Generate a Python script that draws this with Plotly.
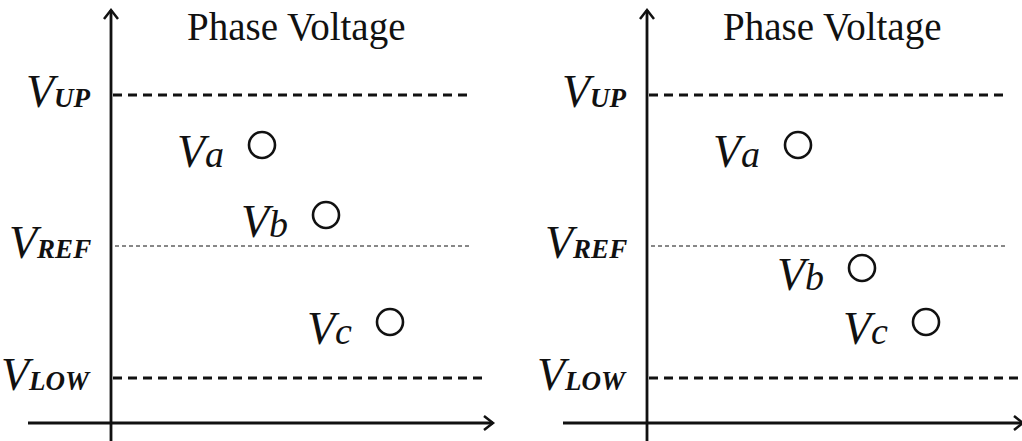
import plotly.graph_objects as go

# ---------------- data (units: voltage level measured up from the time axis) ----
title_text = "Phase Voltage"
level_names = ["UP", "REF", "LOW"]
level_values = [328, 177, 45]
phase_names = ["a", "b", "c"]
phase_pos = [151, 215, 279]          # position along the horizontal axis
left_values = [278, 208, 101]        # Va, Vb, Vc (left panel)
right_values = [278, 155, 101]       # Va, Vb, Vc (right panel)

# ---------------- styling --------------------------------------------------------
W, H = 1022, 441
SERIF = "Liberation Serif, serif"
INK = "#111111"
level_style = {
    "UP": dict(width=2.8, dash="9px,6px", x0=2, x1=361),
    "REF": dict(width=1.0, dash="4px,3px", x0=4, x1=361),
    "LOW": dict(width=2.8, dash="9px,6px", x0=2, x1=373),
}
panels = [
    dict(values=left_values, xr=[-111, 400], dom=[0, 511 / W], ax_start=-83, ax_tip=382),
    dict(values=right_values, xr=[-136, 375], dom=[511 / W, 1], ax_start=-84, ax_tip=376),
]
YR = [-18, 423]
Y_TIP = 413

fig = go.Figure()
shapes, annotations = [], []

for i, p in enumerate(panels):
    xa = "x" if i == 0 else "x2"
    ya = "y" if i == 0 else "y2"
    sfx = "" if i == 0 else "2"

    # circles for phase voltages
    fig.add_trace(go.Scatter(
        x=phase_pos, y=p["values"], mode="markers",
        marker=dict(symbol="circle-open", size=26, color=INK, line=dict(width=2.6, color=INK)),
        xaxis=xa, yaxis=ya, showlegend=False, hoverinfo="skip",
    ))
    # phase labels
    for name, xv, yv in zip(phase_names, phase_pos, p["values"]):
        annotations.append(dict(
            x=xv, y=yv, xref=xa, yref=ya, showarrow=False,
            xanchor="right", yanchor="middle", xshift=-36, yshift=-6,
            text=f"<i>V<span style='font-size:38px'>{name}</span></i>",
            font=dict(family=SERIF, size=46, color=INK),
        ))
    # level lines and labels
    for name, lv in zip(level_names, level_values):
        st = level_style[name]
        shapes.append(dict(type="line", xref=xa, yref=ya, x0=st["x0"], x1=st["x1"], y0=lv, y1=lv,
                           line=dict(color=INK, width=st["width"], dash=st["dash"])))
        annotations.append(dict(
            x=0, y=lv, xref=xa, yref=ya, showarrow=False,
            xanchor="right", yanchor="middle", xshift=-18, yshift=4,
            text=f"<i>V<b><span style='font-size:27px'>{name}</span></b></i>",
            font=dict(family=SERIF, size=46, color=INK),
        ))
    # axes with arrows
    shapes.append(dict(type="line", xref=xa, yref=ya, x0=0, x1=0, y0=YR[0], y1=Y_TIP,
                       line=dict(color=INK, width=2.8)))
    shapes.append(dict(type="path", xref=xa, yref=ya,
                       path=f"M -7,{Y_TIP-9} L 0,{Y_TIP} L 7,{Y_TIP-9}",
                       line=dict(color=INK, width=2.5)))
    shapes.append(dict(type="line", xref=xa, yref=ya, x0=p["ax_start"], x1=p["ax_tip"], y0=0, y1=0,
                       line=dict(color=INK, width=2.8)))
    t = p["ax_tip"]
    shapes.append(dict(type="path", xref=xa, yref=ya,
                       path=f"M {t-9},7 L {t},0 L {t-9},-7",
                       line=dict(color=INK, width=2.5)))
    # title
    annotations.append(dict(
        x=185, y=396, xref=xa, yref=ya, showarrow=False,
        xanchor="center", yanchor="middle", text=title_text,
        font=dict(family=SERIF, size=39, color=INK),
    ))

    axis_common = dict(visible=False, showgrid=False, zeroline=False, fixedrange=True)
    fig.layout["xaxis" + sfx] = dict(range=p["xr"], domain=p["dom"], anchor=ya, **axis_common)
    fig.layout["yaxis" + sfx] = dict(range=YR, domain=[0, 1], anchor=xa, **axis_common)

fig.update_layout(
    width=W, height=H, margin=dict(l=0, r=0, t=0, b=0),
    paper_bgcolor="white", plot_bgcolor="white",
    shapes=shapes, annotations=annotations, showlegend=False,
)

fig.write_html("out.html", config={"displayModeBar": False},
               post_script="document.body.style.margin='0';")
